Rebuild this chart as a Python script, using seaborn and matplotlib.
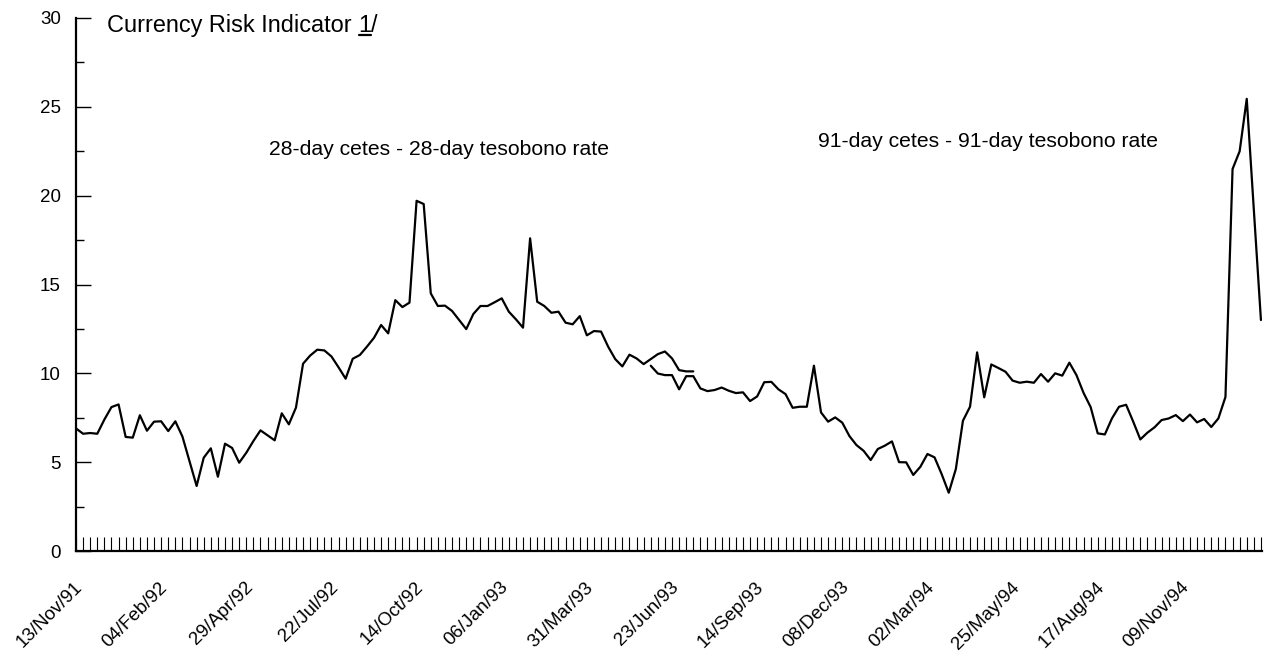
import matplotlib
matplotlib.use("Agg")
import numpy as np
import pandas as pd
import matplotlib.pyplot as plt
from matplotlib.ticker import FixedLocator, FixedFormatter, MultipleLocator, NullFormatter
from matplotlib.lines import Line2D
from matplotlib.transforms import IdentityTransform, ScaledTranslation
import seaborn as sns

# Weekly observations, week 0 = 13/Nov/91
tick_labels = ["13/Nov/91", "04/Feb/92", "29/Apr/92", "22/Jul/92", "14/Oct/92",
               "06/Jan/93", "31/Mar/93", "23/Jun/93", "14/Sep/93", "08/Dec/93",
               "02/Mar/94", "25/May/94", "17/Aug/94", "09/Nov/94"]

weeks_28 = list(range(0, 88))
spread_28 = [6.90, 6.60, 6.64, 6.60, 7.40, 8.10, 8.25, 6.42, 6.38, 7.64,
             6.77, 7.28, 7.30, 6.75, 7.30, 6.44, 5.05, 3.66, 5.25, 5.78,
             4.18, 6.04, 5.80, 4.97, 5.53, 6.19, 6.79, 6.51, 6.23, 7.75,
             7.13, 8.07, 10.54, 11.00, 11.33, 11.29, 10.95, 10.34, 9.70, 10.82,
             11.03, 11.50, 12.00, 12.72, 12.25, 14.12, 13.73, 13.98, 19.71, 19.53,
             14.50, 13.79, 13.81, 13.51, 13.00, 12.49, 13.34, 13.79, 13.79, 14.00,
             14.22, 13.47, 13.04, 12.57, 17.60, 14.03, 13.79, 13.41, 13.47, 12.85,
             12.76, 13.22, 12.14, 12.38, 12.35, 11.50, 10.80, 10.39, 11.05, 10.84,
             10.52, 10.80, 11.08, 11.23, 10.84, 10.18, 10.11, 10.11]

weeks_91 = list(range(81, 168))
spread_91 = [10.43, 9.99, 9.90, 9.90, 9.10, 9.84, 9.84, 9.15, 9.00, 9.06,
             9.20, 9.02, 8.89, 8.93, 8.44, 8.70, 9.50, 9.52, 9.10, 8.83,
             8.06, 8.12, 8.12, 10.43, 7.80, 7.28, 7.52, 7.22, 6.47, 5.96,
             5.64, 5.12, 5.74, 5.93, 6.17, 5.00, 4.99, 4.28, 4.74, 5.46,
             5.27, 4.33, 3.28, 4.61, 7.33, 8.12, 11.18, 8.65, 10.50, 10.30,
             10.09, 9.59, 9.47, 9.53, 9.47, 9.96, 9.53, 10.00, 9.87, 10.60,
             9.90, 8.90, 8.10, 6.62, 6.56, 7.46, 8.12, 8.23, 7.28, 6.28,
             6.66, 6.96, 7.37, 7.46, 7.65, 7.31, 7.68, 7.24, 7.43, 6.98,
             7.46, 8.67, 21.50, 22.50, 25.45, 19.20, 13.00]

sns.set_style("ticks")
plt.rcParams["font.family"] = ["Liberation Sans", "DejaVu Sans"]
plt.rcParams["text.color"] = "black"
plt.rcParams["xtick.labelcolor"] = "black"
plt.rcParams["ytick.labelcolor"] = "black"

fig = plt.figure(figsize=(12.67, 6.58), dpi=100)
W, H = 1267, 658
ax = fig.add_axes([76 / W, 1 - 551 / H, (1262 - 76) / W, (551 - 18) / H])

df28 = pd.DataFrame({"week": weeks_28, "spread": spread_28})
df91 = pd.DataFrame({"week": weeks_91, "spread": spread_91})
for df in (df28, df91):
    sns.lineplot(data=df, x="week", y="spread", color="black", linewidth=1.6,
                 ax=ax, legend=False)

ax.set_xlim(0, 167.15)
ax.set_ylim(0, 30)
ax.set_xlabel("")
ax.set_ylabel("")
sns.despine(ax=ax)
for side in ("left", "bottom"):
    ax.spines[side].set_linewidth(1.6)
    ax.spines[side].set_color("black")

# x axis: a short inward tick every week, a date label every 12 weeks
major_pos = [12 * i for i in range(len(tick_labels))]
ax.xaxis.set_major_locator(FixedLocator(major_pos))
ax.xaxis.set_major_formatter(FixedFormatter(tick_labels))
ax.xaxis.set_minor_locator(FixedLocator(list(range(1, 168))))
ax.tick_params(axis="x", which="both", direction="in", length=10, width=0.8,
               color="black", pad=20)
ax.tick_params(axis="x", which="major", labelsize=13.5, labelcolor="black")
offset = ScaledTranslation(-2 / 100, 0, fig.dpi_scale_trans)
for lab in ax.get_xticklabels():
    lab.set_rotation(45)
    lab.set_ha("right")
    lab.set_va("top")
    lab.set_rotation_mode("anchor")
    lab.set_color("black")
    lab.set_transform(lab.get_transform() + offset)

# y axis: labelled every 5, minor every 2.5
ax.yaxis.set_major_locator(MultipleLocator(5))
ax.yaxis.set_minor_locator(MultipleLocator(2.5))
ax.yaxis.set_minor_formatter(NullFormatter())
ax.tick_params(axis="y", which="major", direction="in", length=11, width=1.0,
               color="black", labelsize=13.5, labelcolor="black", pad=11)
ax.tick_params(axis="y", which="minor", direction="in", length=6, width=1.0,
               color="black")

# Series annotations
ax.text(27.2, 22.6, "28-day cetes - 28-day tesobono rate", fontsize=15.2,
        ha="left", va="center", color="black")
ax.text(104.6, 23.07, "91-day cetes - 91-day tesobono rate", fontsize=15.2,
        ha="left", va="center", color="black")

# Title with underlined footnote marker
tsize = 16.9
t1 = ax.text(4.4, 29.6, "Currency Risk Indicator ", fontsize=tsize,
             ha="left", va="center", color="black")
t2 = ax.annotate("1", xy=(1, 0), xycoords=t1, fontsize=tsize,
                 ha="left", va="bottom", color="black")
t3 = ax.annotate("/", xy=(1, 0), xycoords=t2, fontsize=tsize,
                 ha="left", va="bottom", color="black")
fig.canvas.draw()
bb = t2.get_window_extent()
uy = bb.y0 + 2
fig.add_artist(Line2D([bb.x0 + 0.5, bb.x1 - 0.5], [uy, uy], color="black",
                      linewidth=1.6, transform=IdentityTransform()))

fig.savefig("out.png", dpi=100)
